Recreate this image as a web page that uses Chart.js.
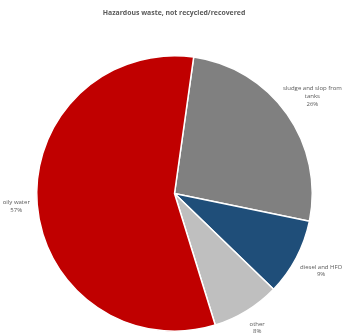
<!DOCTYPE html>
<html>
<head>
<meta charset="utf-8">
<script src="https://cdn.jsdelivr.net/npm/chart.js@4"></script>
<style>
  html, body { margin: 0; padding: 0; background: #fff; }
  #wrap { width: 361px; height: 334px; position: relative; }
</style>
</head>
<body>
<div id="wrap"><canvas id="waste-pie"></canvas></div>
<script>
  const chartTitle = 'Hazardous waste, not recycled/recovered';
  const categories = [['sludge and slop from', 'tanks'], ['diesel and HFO'], ['other'], ['oily water']];
  const shares = [26, 9, 8, 57];
  const sliceColors = ['#808080', '#1F4E79', '#BFBFBF', '#C00000'];
  // distance of each label block's centre beyond the rim
  const labelGaps = [31, 28, 20, 21];

  // writes the title and the category/percent labels just outside each slice
  const outsideLabels = {
    id: 'outsideLabels',
    afterDraw(chart) {
      const ctx = chart.ctx;
      ctx.save();
      ctx.textAlign = 'center';
      ctx.textBaseline = 'middle';

      ctx.fillStyle = '#595959';
      ctx.font = 'bold 6.9px "Open Sans"';
      ctx.fillText(chartTitle, 174, 13);

      ctx.font = '6px "Open Sans"';
      ctx.fillStyle = '#595959';
      const meta = chart.getDatasetMeta(0);
      const total = shares.reduce((a, b) => a + b, 0);
      meta.data.forEach((arc, i) => {
        const mid = (arc.startAngle + arc.endAngle) / 2;
        const r = arc.outerRadius + labelGaps[i];
        const x = arc.x + Math.cos(mid) * r;
        const y = arc.y + Math.sin(mid) * r;
        const lines = categories[i].concat([Math.round(shares[i] / total * 100) + '%']);
        const lh = 7.8;
        const top = y - (lines.length - 1) * lh / 2;
        lines.forEach((t, k) => ctx.fillText(t, x, top + k * lh));
      });
      ctx.restore();
    }
  };

  new Chart(document.getElementById('waste-pie'), {
    type: 'pie',
    data: {
      labels: categories.map(c => c.join(' ')),
      datasets: [{
        data: shares,
        backgroundColor: sliceColors,
        borderColor: '#ffffff',
        borderWidth: 1.5
      }]
    },
    options: {
      responsive: true,
      maintainAspectRatio: false,
      animation: false,
      rotation: 8,
      layout: { padding: { left: 36, right: 48, top: 55, bottom: 2 } },
      plugins: {
        legend: { display: false },
        tooltip: { enabled: false },
        title: { display: false }
      }
    },
    plugins: [outsideLabels]
  });
</script>
</body>
</html>
